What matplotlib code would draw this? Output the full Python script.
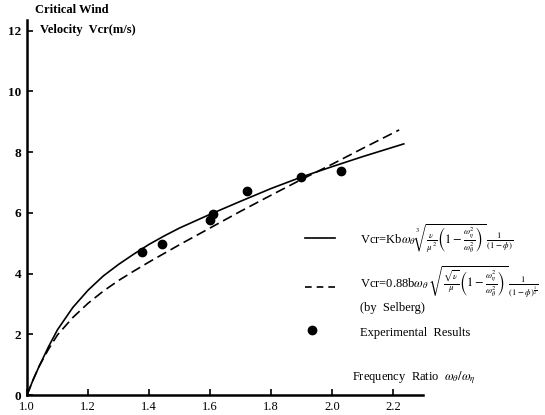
import numpy as np
import matplotlib.pyplot as plt
from matplotlib.lines import Line2D

plt.rcParams['font.family'] = 'Liberation Serif'
plt.rcParams['mathtext.fontset'] = 'stix'

# Theoretical curve (present formula)
x_theory = [1.00, 1.02, 1.04, 1.07, 1.10, 1.15, 1.20, 1.25, 1.30, 1.35, 1.40, 1.45, 1.50,
            1.60, 1.70, 1.80, 1.90, 2.00, 2.10, 2.235]
v_theory = [0.00, 0.50, 0.95, 1.58, 2.15, 2.88, 3.45, 3.92, 4.30, 4.64, 4.96, 5.24, 5.50,
            5.95, 6.38, 6.80, 7.18, 7.52, 7.85, 8.27]

# Selberg's formula
x_selberg = [1.00, 1.02, 1.04, 1.07, 1.10, 1.15, 1.20, 1.25, 1.30, 1.35, 1.40, 1.50,
             1.60, 1.70, 1.80, 1.90, 2.00, 2.10, 2.22]
v_selberg = [0.00, 0.50, 0.95, 1.50, 1.98, 2.55, 3.02, 3.42, 3.77, 4.08, 4.38, 4.95,
             5.50, 6.05, 6.58, 7.10, 7.60, 8.12, 8.73]

# Wind tunnel measurements
x_exp = [1.376, 1.442, 1.600, 1.611, 1.722, 1.898, 2.028]
v_exp = [4.72, 4.97, 5.76, 5.96, 6.73, 7.17, 7.39]

xticks = [1.0, 1.2, 1.4, 1.6, 1.8, 2.0, 2.2]
yticks = [0, 2, 4, 6, 8, 10, 12]

W, H = 545, 415
fig = plt.figure(figsize=(W / 100, H / 100), dpi=100)
ax = fig.add_axes([27 / W, 20 / H, 396 / W, 375 / H])

ax.plot(x_theory, v_theory, color='black', lw=1.2)
ax.plot(x_selberg, v_selberg, color='black', lw=1.2, dashes=(6, 3))
ax.plot(x_exp, v_exp, 'o', color='black', ms=6)

ax.set_xlim(1.0, 2.298)
ax.set_ylim(0, 12.35)
for side in ['top', 'right']:
    ax.spines[side].set_visible(False)
for side in ['left', 'bottom']:
    ax.spines[side].set_linewidth(1.8)

ax.set_xticks(xticks)
ax.set_xticklabels([f'{t:.1f}' for t in xticks], fontsize=9)
ax.set_yticks(yticks)
ax.set_yticklabels([str(t) for t in yticks], fontsize=9.5, fontweight='bold')
ax.tick_params(direction='in', length=4, width=1.2, pad=4)


def fx(px):
    return px / W


def fy(py):
    return 1 - py / H


# axis titles
fig.text(fx(35), fy(10), 'Critical Wind', fontsize=9, fontweight='bold', va='center')
fig.text(fx(40), fy(30), 'Velocity  Vcr(m/s)', fontsize=9, fontweight='bold', va='center')
fig.text(fx(352), fy(378), r'Frequency  Ratio  $\omega_\theta/\omega_\eta$', fontsize=9, va='center')

# key
fig.add_artist(Line2D([fx(305), fx(335)], [fy(238), fy(238)], color='black', lw=1.2))
fig.add_artist(Line2D([fx(305), fx(335)], [fy(287), fy(287)], color='black', lw=1.2, dashes=(4, 3)))
fig.add_artist(Line2D([fx(312)], [fy(330)], marker='o', color='black', ms=6))

fig.text(fx(360), fy(239),
         r'Vcr=Kb$\omega_\theta\,\sqrt[3]{\frac{\nu}{\mu^2}\left(1-\frac{\omega_\eta^2}{\omega_\theta^2}\right)}\;\frac{1}{(1-\phi)}$',
         fontsize=9, va='center')
fig.text(fx(360), fy(282),
         r'Vcr=0.88b$\omega_\theta\,\sqrt{\frac{\sqrt{\nu}}{\mu}\left(1-\frac{\omega_\eta^2}{\omega_\theta^2}\right)}\;\frac{1}{(1-\phi)^{\frac{1}{2}}}$',
         fontsize=9, va='center')
fig.text(fx(360), fy(308), '(by  Selberg)', fontsize=9, va='center')
fig.text(fx(360), fy(333), 'Experimental  Results', fontsize=9, va='center')

fig.savefig('out.png', dpi=100)
